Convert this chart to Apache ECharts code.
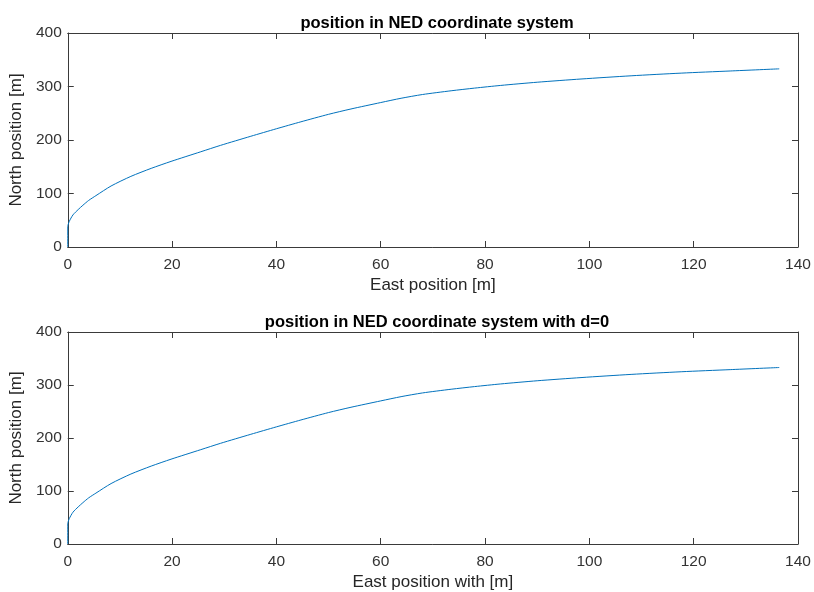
<!DOCTYPE html>
<html>
<head>
<meta charset="utf-8">
<script src="https://cdn.jsdelivr.net/npm/echarts@6/dist/echarts.min.js"></script>
<style>
    html, body { margin: 0; padding: 0; background: #fff; }
    #main { width: 814px; height: 592px; }
</style>
</head>
<body>
<div id="main"></div>
<script>
// readings (east [m], north [m])
var eastPos  = [0, 0, 0.3, 1.0, 2.0, 2.9, 4.0, 5.4, 8.3, 12.1, 16.0, 19.8, 25.5, 29.3, 35.1, 40.0, 44.7, 50.0, 54.3, 60.0, 63.9, 68.0, 73.5, 78.0, 83.0, 90.0, 98.4, 108.0, 117.6, 127.0, 136.4];
var northPos = [0, 38, 48, 60, 70, 78, 87, 96, 114, 132, 147, 160, 178, 190, 207, 221, 234, 248, 258, 270, 278, 285, 292, 297, 302, 308, 314, 320, 325, 329, 333];
var northPosD0 = [0, 38, 48, 60, 70, 78, 87, 96, 114, 132, 147, 160, 178, 190, 207, 221, 234, 248, 258, 270, 278, 285, 292, 297, 302, 308, 314, 320, 325, 329, 333];

var xTicks = [0, 20, 40, 60, 80, 100, 120, 140];
var yTicks = [0, 100, 200, 300, 400];

var titles = ['position in NED coordinate system', 'position in NED coordinate system with d=0'];
var xNames = ['East position [m]', 'East position with [m]'];
var yName = 'North position [m]';

var toPairs = function (xs, ys) {
    var out = [];
    for (var i = 0; i < xs.length; i++) {
        out.push([xs[i], ys[i]]);
    }
    return out;
};

var axisColor = '#3a3a3a';
var font = '"Liberation Sans", Arial, sans-serif';

var makeX = function (gridIndex, name, mirror) {
    return {
        type: 'value',
        gridIndex: gridIndex,
        position: mirror ? 'top' : 'bottom',
        min: xTicks[0],
        max: xTicks[xTicks.length - 1],
        interval: 20,
        name: mirror ? '' : name,
        nameLocation: 'middle',
        nameGap: 30,
        nameTextStyle: { color: '#262626', fontSize: 17, fontFamily: font },
        axisLine: { show: true, onZero: false, lineStyle: { color: axisColor, width: 1 } },
        axisTick: { show: true, inside: true, length: 6, lineStyle: { color: axisColor } },
        axisLabel: { show: !mirror, margin: 10, color: '#333', fontSize: 15.5, fontFamily: font },
        splitLine: { show: false }
    };
};

var makeY = function (gridIndex, mirror) {
    return {
        type: 'value',
        gridIndex: gridIndex,
        position: mirror ? 'right' : 'left',
        min: yTicks[0],
        max: yTicks[yTicks.length - 1],
        interval: 100,
        name: mirror ? '' : yName,
        nameLocation: 'middle',
        nameGap: 39,
        nameTextStyle: { color: '#262626', fontSize: 17, fontFamily: font },
        axisLine: { show: true, onZero: false, lineStyle: { color: axisColor, width: 1 } },
        axisTick: { show: true, inside: true, length: 6, lineStyle: { color: axisColor } },
        axisLabel: { show: !mirror, margin: 6, color: '#333', fontSize: 15.5, fontFamily: font },
        splitLine: { show: false }
    };
};

var myChart = echarts.init(document.getElementById('main'));
var option = {
    backgroundColor: '#fff',
    animation: false,
    title: [
        {
            text: titles[0], left: 432, top: 10, textAlign: 'center',
            textStyle: { fontSize: 16.5, fontWeight: 'bold', color: '#000', fontFamily: font }
        },
        {
            text: titles[1], left: 432, top: 309, textAlign: 'center',
            textStyle: { fontSize: 16.5, fontWeight: 'bold', color: '#000', fontFamily: font }
        }
    ],
    grid: [
        { left: 67, right: 16, top: 33, height: 214 },
        { left: 67, right: 16, top: 332, height: 213 }
    ],
    xAxis: [
        makeX(0, xNames[0], false),
        makeX(0, '', true),
        makeX(1, xNames[1], false),
        makeX(1, '', true)
    ],
    yAxis: [
        makeY(0, false),
        makeY(0, true),
        makeY(1, false),
        makeY(1, true)
    ],
    series: [
        {
            type: 'line',
            xAxisIndex: 0,
            yAxisIndex: 0,
            showSymbol: false,
            smooth: 0.25,
            lineStyle: { color: '#0072BD', width: 1 },
            data: toPairs(eastPos, northPos)
        },
        {
            type: 'line',
            xAxisIndex: 2,
            yAxisIndex: 2,
            showSymbol: false,
            smooth: 0.25,
            lineStyle: { color: '#0072BD', width: 1 },
            data: toPairs(eastPos, northPosD0)
        }
    ]
};
myChart.setOption(option);
window.onresize = myChart.resize;
</script>
</body>
</html>
